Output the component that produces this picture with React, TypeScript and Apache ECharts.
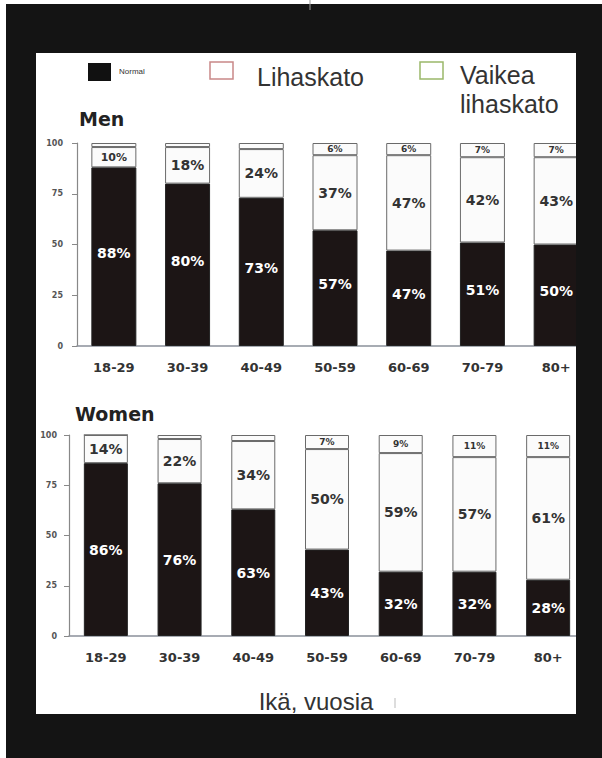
import React, { useEffect, useRef } from 'react';
import * as echarts from 'echarts';

const ageGroups = ['18-29', '30-39', '40-49', '50-59', '60-69', '70-79', '80+'];
const yTicks = [0, 25, 50, 75, 100];
const menNormal = [88, 80, 73, 57, 47, 51, 50];
const menLihaskato = [10, 18, 24, 37, 47, 42, 43];
const menVaikea = [2, 2, 3, 6, 6, 7, 7];
const womenNormal = [86, 76, 63, 43, 32, 32, 28];
const womenLihaskato = [14, 22, 34, 50, 59, 57, 61];
const womenVaikea = [0, 2, 3, 7, 9, 11, 11];
const seriesNames = ['Normal', 'Lihaskato', 'Vaikea lihaskato'];
const legendLines = ['Normal', 'Lihaskato', 'Vaikea', 'lihaskato'];
const panelTitles = ['Men', 'Women'];
const xAxisTitle = 'Ikä, vuosia';

const LABEL_FONT = 'DejaVu Sans';
const TEXT_FONT = 'Liberation Sans';
const FRAME = '#141414';

export default function App() {
  const ref = useRef<HTMLDivElement>(null);

  useEffect(() => {
    if (!ref.current) return;
    const chart = echarts.init(ref.current, null, { renderer: 'svg' });

    const grids = [
      { left: 77, top: 143, width: 516, height: 203 },
      { left: 69, top: 435, width: 516, height: 201 },
    ];
    const barWidths = [45, 44];
    const yLabelMargins = [14, 12];
    const normalLabelOffsets = [-4, 0];

    const xAxes = grids.map((_, i) => ({
      type: 'category',
      gridIndex: i,
      data: ageGroups,
      axisLine: { show: true, lineStyle: { color: '#8a909a', width: 1.5 } },
      axisTick: { show: false },
      axisLabel: {
        color: '#333',
        fontFamily: LABEL_FONT,
        fontWeight: 'bold',
        fontSize: 13,
        margin: 15,
      },
    }));

    const yAxes = grids.map((_, i) => ({
      type: 'value',
      gridIndex: i,
      min: yTicks[0],
      max: yTicks[yTicks.length - 1],
      interval: yTicks[1] - yTicks[0],
      axisLine: { show: true, lineStyle: { color: '#888', width: 1.2 } },
      axisTick: { show: true, length: 5, lineStyle: { color: '#888' } },
      splitLine: { show: false },
      axisLabel: {
        color: '#555',
        fontFamily: LABEL_FONT,
        fontWeight: 'bold',
        fontSize: 8,
        margin: yLabelMargins[i],
      },
    }));

    const groups = [
      [menNormal, menLihaskato, menVaikea],
      [womenNormal, womenLihaskato, womenVaikea],
    ];

    const series: any[] = [];
    groups.forEach((g, gi) => {
      g.forEach((values, si) => {
        const isNormal = si === 0;
        const isTop = si === 2;
        series.push({
          name: seriesNames[si],
          type: 'bar',
          xAxisIndex: gi,
          yAxisIndex: gi,
          stack: 'total' + gi,
          barWidth: barWidths[gi],
          data: values.map((v) => ({
            value: v,
            label:
              !isNormal && !isTop && v < 12 ? { fontSize: 11 } : undefined,
          })),
          itemStyle: {
            color: isNormal ? '#1c1515' : '#fbfbfb',
            borderColor: isNormal ? '#222' : '#6a6a6a',
            borderWidth: 1,
          },
          label: {
            show: true,
            position: 'inside',
            offset: [0, isNormal ? normalLabelOffsets[gi] : 0],
            fontFamily: LABEL_FONT,
            fontWeight: 'bold',
            fontSize: isTop ? 9 : 14,
            color: isNormal ? '#ffffff' : '#333',
            formatter: (p: any) =>
              isTop ? (p.value >= 6 ? p.value + '%' : '') : p.value + '%',
          },
          emphasis: { disabled: true },
        });
      });
    });

    const bigText = (text: string, x: number, y: number) => ({
      type: 'text',
      x,
      y,
      style: { text, fontSize: 25, fontFamily: TEXT_FONT, fill: '#333', verticalAlign: 'middle' },
    });

    const legendGraphics: any[] = [
      { type: 'rect', shape: { x: 88, y: 63, width: 23, height: 18 }, style: { fill: '#111' } },
      {
        type: 'text',
        x: 119,
        y: 71,
        style: { text: legendLines[0], fontSize: 8, fontFamily: TEXT_FONT, fill: '#333', verticalAlign: 'middle' },
      },
      {
        type: 'rect',
        shape: { x: 210, y: 62, width: 23, height: 17 },
        style: { fill: '#fff', stroke: '#c98888', lineWidth: 1.5 },
      },
      bigText(legendLines[1], 257, 77),
      {
        type: 'rect',
        shape: { x: 420, y: 62, width: 23, height: 17 },
        style: { fill: '#fff', stroke: '#9bb86a', lineWidth: 1.5 },
      },
      bigText(legendLines[2], 460, 75),
      bigText(legendLines[3], 460, 104),
    ];

    const titleGraphics: any[] = [
      {
        type: 'text',
        x: 79,
        y: 118.5,
        style: { text: panelTitles[0], fontSize: 19, fontWeight: 'bold', fontFamily: LABEL_FONT, fill: '#222', verticalAlign: 'middle' },
      },
      {
        type: 'text',
        x: 75,
        y: 413.5,
        style: { text: panelTitles[1], fontSize: 19, fontWeight: 'bold', fontFamily: LABEL_FONT, fill: '#222', verticalAlign: 'middle' },
      },
      {
        type: 'text',
        x: 316,
        y: 701,
        style: { text: xAxisTitle, fontSize: 24, fontFamily: TEXT_FONT, fill: '#333', align: 'center', verticalAlign: 'middle' },
      },
      {
        type: 'line',
        shape: { x1: 395, y1: 698, x2: 395, y2: 708 },
        style: { stroke: '#bbb', lineWidth: 1 },
      },
    ];

    const frameGraphics: any[] = [
      { type: 'rect', z: 100, shape: { x: 6, y: 4, width: 596, height: 49 }, style: { fill: FRAME } },
      { type: 'rect', z: 100, shape: { x: 6, y: 4, width: 30, height: 754 }, style: { fill: FRAME } },
      { type: 'rect', z: 100, shape: { x: 576, y: 4, width: 26, height: 754 }, style: { fill: FRAME } },
      { type: 'rect', z: 100, shape: { x: 6, y: 714, width: 596, height: 44 }, style: { fill: FRAME } },
      { type: 'line', z: 101, shape: { x1: 310, y1: 0, x2: 310, y2: 10 }, style: { stroke: '#999', lineWidth: 1 } },
    ];

    chart.setOption({
      animation: false,
      backgroundColor: '#ffffff',
      grid: grids,
      xAxis: xAxes,
      yAxis: yAxes,
      series,
      graphic: [...legendGraphics, ...titleGraphics, ...frameGraphics],
    });

    return () => chart.dispose();
  }, []);

  return (
    <div
      ref={ref}
      style={{ position: 'absolute', left: 0, top: 0, width: 602, height: 758 }}
    />
  );
}
